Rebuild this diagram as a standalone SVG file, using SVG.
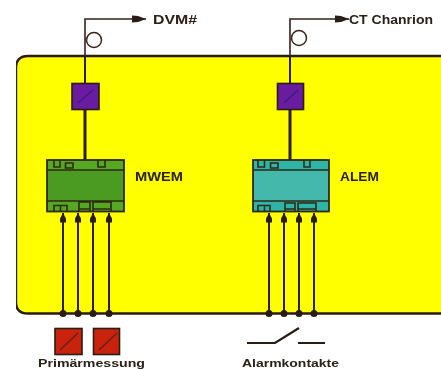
<svg xmlns="http://www.w3.org/2000/svg" width="441" height="369" viewBox="0 0 441 369">
<defs>
<marker id="arr" markerUnits="userSpaceOnUse" markerWidth="9" markerHeight="12" refX="4.500" refY="0.500" orient="0"><path d="M4.500 0.500L7.500 6V10H1.500V6Z" fill="#2b1a12"/></marker>
<marker id="head" markerUnits="userSpaceOnUse" markerWidth="15" markerHeight="9" refX="14" refY="4.500" orient="auto"><path d="M0 1L6 1.500L14 4.500L6 7.500L0 8Z" fill="#2b1a12"/></marker>
<filter id="soft" x="0" y="0" width="100%" height="100%"><feGaussianBlur stdDeviation="0.35"/></filter>
</defs>
<style>
.l{fill:none;stroke:#3a2418;stroke-width:1.6}
.m{fill:none;stroke:#2b1a12;stroke-width:2}
.w{fill:none;stroke:#2b1a12;stroke-width:2}
.b{fill:none;stroke:#2e2a14;stroke-width:1.6}
.t{font-family:"Liberation Sans",Arial,sans-serif;font-weight:700;fill:#2a2018}
.sq{stroke:#2b1a12;stroke-width:1.6}
</style>
<rect width="441" height="369" fill="#fff"/>
<g filter="url(#soft)">
<path d="M443 56H28Q16 56 16 68V302Q16 313.500 28 313.500H443" fill="#ffff00" stroke="#2b1a12" stroke-width="2.400"/>
<g id="connectors">
<path class="l" d="M85 84V19H146" marker-end="url(#head)"/>
<path class="l" d="M290 84V19H349" marker-end="url(#head)"/>
<path class="m" d="M85 56V84"/>
<path class="m" d="M290 56V84"/>
<path d="M85 109V160" fill="none" stroke="#2b1a12" stroke-width="3"/>
<path d="M290 109V160" fill="none" stroke="#2b1a12" stroke-width="3"/>
<g id="mwem-inputs">
<path class="w" d="M63 313.500V213" marker-end="url(#arr)"/>
<path class="w" d="M78 313.500V213" marker-end="url(#arr)"/>
<path class="w" d="M93 313.500V213" marker-end="url(#arr)"/>
<path class="w" d="M109 313.500V213" marker-end="url(#arr)"/>
</g>
<g id="alem-inputs">
<path class="w" d="M269 313.500V213" marker-end="url(#arr)"/>
<path class="w" d="M284 313.500V213" marker-end="url(#arr)"/>
<path class="w" d="M299 313.500V213" marker-end="url(#arr)"/>
<path class="w" d="M314 313.500V213" marker-end="url(#arr)"/>
</g>
<g fill="#2b1a12"><circle cx="63" cy="313.500" r="3.500"/><circle cx="78" cy="313.500" r="3.500"/><circle cx="93" cy="313.500" r="3.500"/><circle cx="109" cy="313.500" r="3.500"/><circle cx="269" cy="313.500" r="3.500"/><circle cx="284" cy="313.500" r="3.500"/><circle cx="299" cy="313.500" r="3.500"/><circle cx="314" cy="313.500" r="3.500"/></g>
</g>
<g id="dvm-output"><circle cx="94" cy="40" r="7.500" fill="#fff" stroke="#3a2418" stroke-width="1.500"/><text class="t" x="153" y="24" font-size="12.500" textLength="44" lengthAdjust="spacingAndGlyphs">DVM#</text></g>
<g id="ct-output"><circle cx="299" cy="38" r="7.500" fill="#fff" stroke="#3a2418" stroke-width="1.500"/><text class="t" x="349" y="24" font-size="12.500" textLength="84" lengthAdjust="spacingAndGlyphs">CT Chanrion</text></g>
<g id="transducer-left"><rect class="sq" x="72" y="83.500" width="27" height="26" fill="#6a1fa0"/><path d="M78 103L93 90" stroke="#35207a" stroke-width="1.200"/></g>
<g id="transducer-right"><rect class="sq" x="277.500" y="83.500" width="26" height="26" fill="#6a1fa0"/><path d="M284 103L298 90" stroke="#35207a" stroke-width="1.200"/></g>
<g id="mwem">
<rect x="47" y="160" width="77" height="51.500" fill="#55a823" stroke="#2e2a14" stroke-width="1.800"/>
<rect x="48" y="170" width="75" height="31" fill="#4b9a24"/>
<path class="b" d="M47 170H124M47 201H124M54 160V167H60V160M65.500 163H73V168H65.500ZM98 160V167H105V160M54 211V205.500H67V211M60.500 205.500V211M79 211V202H90V211M79 209H90M93 211V202H111V211M93 209H111"/>
<text class="t" x="135" y="181" font-size="13" textLength="48" lengthAdjust="spacingAndGlyphs">MWEM</text>
</g>
<g id="alem">
<rect x="253" y="160" width="76" height="51.500" fill="#2fb5a8" stroke="#2e2a14" stroke-width="1.800"/>
<rect x="254" y="170" width="74" height="31" fill="#45b8ac"/>
<path class="b" d="M253 170H329M253 201H329M258 160V167H264.500V160M270.500 163H278V168H270.500ZM304 160V167H310V160M258 211V205.500H270V211M264.500 205.500V211M285 211V203H295V211M285 209H295M298 211V203H316V211M298 209H316"/>
<text class="t" x="340" y="181" font-size="13" textLength="39" lengthAdjust="spacingAndGlyphs">ALEM</text>
</g>
<g id="primary">
<rect class="sq" x="55" y="328.500" width="27" height="26" fill="#c9240f"/><path d="M60 350L78 333" stroke="#5a2020" stroke-width="1.200"/>
<rect class="sq" x="93.500" y="328.500" width="26" height="26" fill="#c9240f"/><path d="M99 350L117 333" stroke="#5a2020" stroke-width="1.200"/>
<text class="t" x="38" y="366.500" font-size="11" textLength="107" lengthAdjust="spacingAndGlyphs">Primärmessung</text>
</g>
<g id="alarm">
<path d="M247 343H275L299 328M298 343H325" fill="none" stroke="#2b1a12" stroke-width="2.200"/>
<text class="t" x="242" y="366.500" font-size="11" textLength="97" lengthAdjust="spacingAndGlyphs">Alarmkontakte</text>
</g>
</g>
</svg>
